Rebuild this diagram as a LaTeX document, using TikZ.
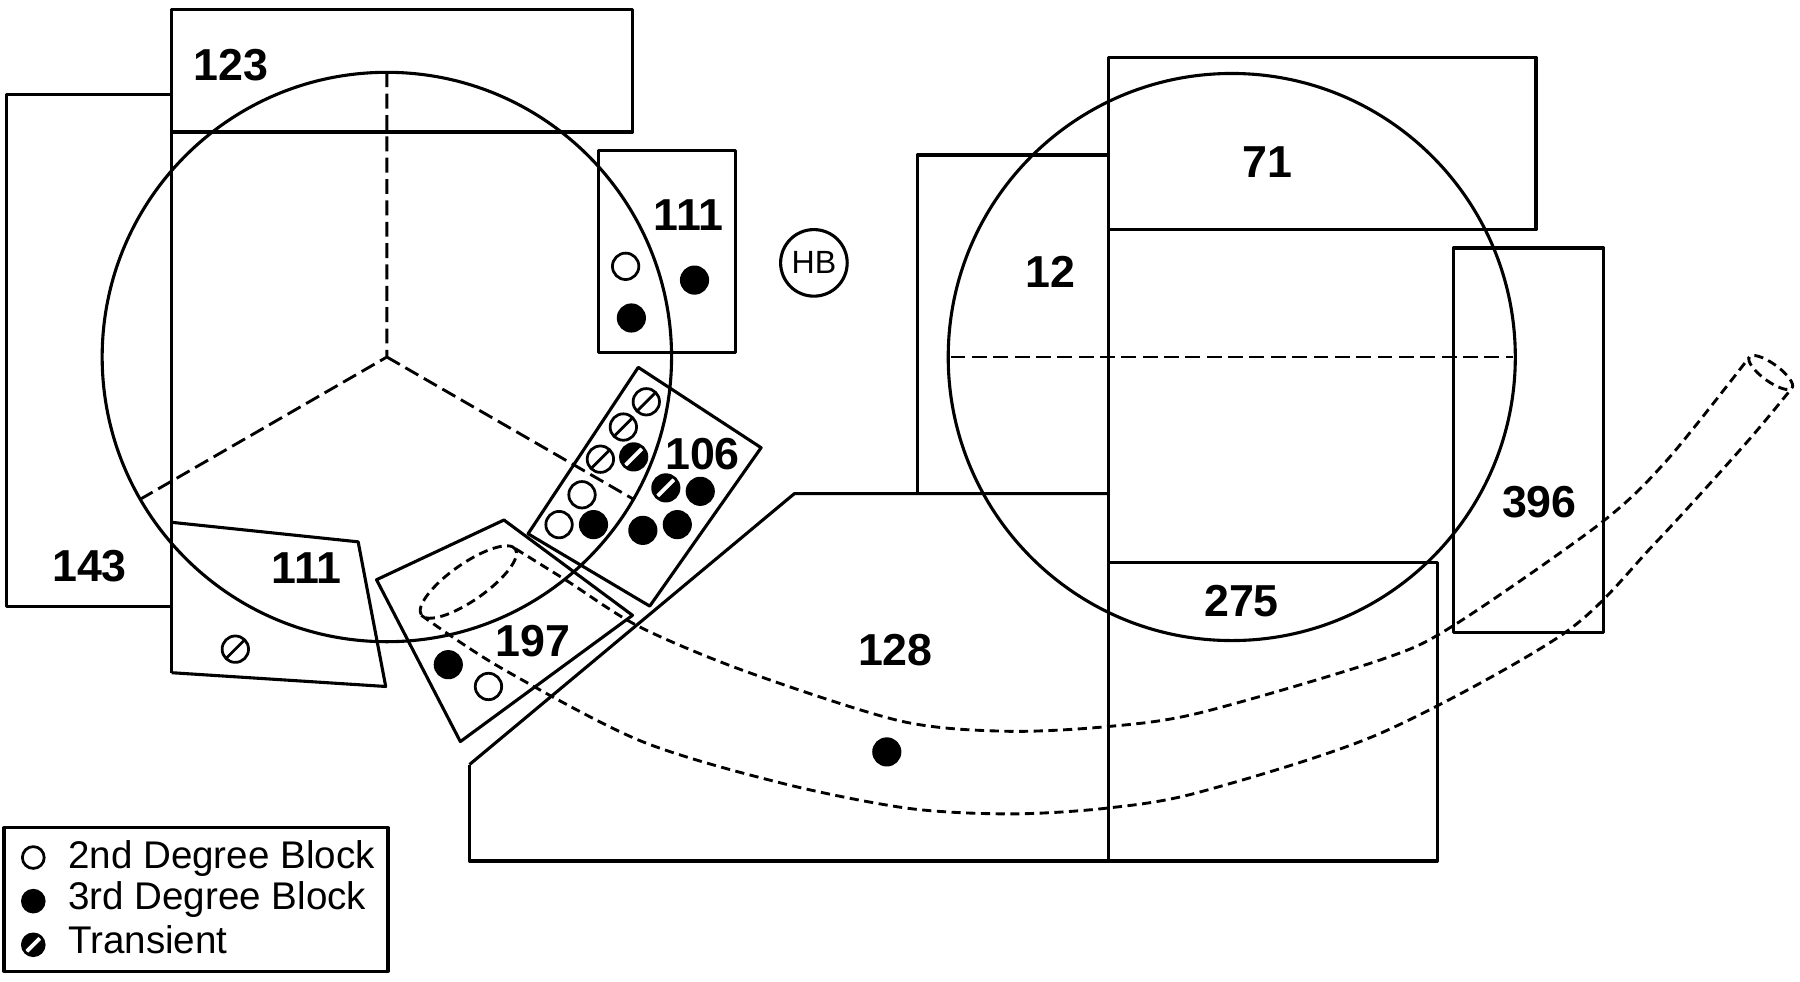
\documentclass[tikz,border=0pt]{standalone}
\usepackage{fontspec}
\setmainfont{Liberation Sans}
\begin{document}
\begin{tikzpicture}[x=0.5pt,y=-0.5pt,line join=round,line width=1.35pt]
\tikzset{lbl/.style={font=\fontsize{19.5}{21}\selectfont\bfseries,inner sep=0pt},
  key/.style={font=\fontsize{16.8}{18}\selectfont,inner sep=0pt,anchor=base west},
  dot/.style={circle,draw,inner sep=0pt,minimum size=11.5pt,line width=1.2pt},
  blk/.style={dot,fill=black},
  opn/.style={dot,fill=white},
  tro/.style={opn,path picture={\draw[line width=1.2pt] (path picture bounding box.south west)--(path picture bounding box.north east);}},
  trb/.style={blk,path picture={\draw[white,line width=1.7pt] (path picture bounding box.south west)--(path picture bounding box.north east);}},
  dsh/.style={line width=1.25pt,dash pattern=on 6.5pt off 2.8pt},
  tube/.style={line width=1.25pt,dash pattern=on 4pt off 2.4pt}}
\useasboundingbox (0,0) rectangle (1568,854.6);
% left side
\draw (149.5,8) rectangle (551,115);
\draw (149.5,8) -- (149.5,586);
\draw (149.5,82) -- (6,82) -- (6,528) -- (149.5,528);
\draw (149.5,455) -- (312,472) -- (336,598) -- (149.5,586);
\draw (337,311) circle[radius=124pt];
\draw[dsh] (337,63) -- (337,311) -- (122,435) (337,311) -- (552,435);
\draw (521,131) rectangle (641,307);
\draw (556,320) -- (663,390) -- (566,528) -- (460,465) -- cycle;
\draw (439,453) -- (551,536) -- (401,646) -- (328,505) -- cycle;
% right side
\draw (409,666) -- (692,430) -- (966,430);
\draw (409,666) -- (409,750) -- (1252,750) -- (1252,490) -- (966,490);
\draw (966,50) -- (966,750);
\draw (799,430) -- (799,135) -- (966,135);
\draw (966,50) rectangle (1338,200);
\draw (1266,216) rectangle (1397,551);
\draw (1073,311) circle[radius=123.5pt];
\draw[dsh] (828,311) -- (1318,311);
% tube
\draw[tube,rotate around={35:(408,507)}] (408,507) ellipse[x radius=25pt,y radius=8pt];
\draw[tube,rotate around={-36:(1542.5,324.5)}] (1542.5,324.5) ellipse[x radius=11.5pt,y radius=3.8pt];
\draw[tube] plot[smooth] coordinates {(449,478) (494,506) (557,546) (650,585) (784,628) (876,637)
  (964,633) (1045,621) (1202,575) (1266,545) (1394,456) (1452,401) (1524,311)};
\draw[tube] plot[smooth] coordinates {(367,536) (435,581) (557,645) (680,682) (790,704) (880,709)
  (964,704) (1045,690) (1202,639) (1362,552) (1441,474) (1521,386) (1561,338)};
% labels
\node[lbl] (n123) at (201,57) {123};
\node[lbl] (n143) at (78,493) {143};
\node[lbl] (n111a) at (267,494.5) {111};
\node[lbl] (n111b) at (600,187) {111};
\node[lbl] (n106) at (612,395.5) {106};
\node[lbl] (n197) at (464,558.5) {197};
\node[lbl] (n128) at (780,566) {128};
\node[lbl] (n12) at (915,236.5) {12};
\node[lbl] (n71) at (1104,141.5) {71};
\node[lbl] (n396) at (1341,437) {396};
\node[lbl] (n275) at (1081.5,523.5) {275};
\node[circle,draw,minimum size=29pt,inner sep=0pt,font=\fontsize{14}{16}\selectfont] (hb) at (709,229) {HB};
% sites
\node[opn] (a1) at (545,232) {};
\node[blk] (a2) at (605,244) {};
\node[blk] (a3) at (550,277) {};
\foreach \x/\y [count=\i] in {563/350,543/372,523/400}
  \node[tro] (t\i) at (\x,\y) {};
\foreach \x/\y [count=\i] in {552/398,580/425}
  \node[trb] (s\i) at (\x,\y) {};
\foreach \x/\y [count=\i] in {507/431,487/457}
  \node[opn] (o\i) at (\x,\y) {};
\foreach \x/\y [count=\i] in {517/457,610/428,560/462,590/457}
  \node[blk] (f\i) at (\x,\y) {};
\node[tro] (b1) at (205,565.5) {};
\node[blk] (c1) at (390.5,579) {};
\node[opn] (c2) at (425.5,598) {};
\node[blk] (d1) at (772.5,655) {};
% legend
\draw (3.5,721) rectangle (338,846);
\node[opn,minimum size=9.5pt] (k1) at (29,747) {};
\node[blk,minimum size=9.5pt] (k2) at (29,785) {};
\node[trb,minimum size=9.5pt] (k3) at (29,823) {};
\node[key] (t1) at (58,756.4) {2nd Degree Block};
\node[key] (t2) at (58,792.7) {3rd Degree Block};
\node[key] (t3) at (58,830.4) {Transient};
\end{tikzpicture}
\end{document}
